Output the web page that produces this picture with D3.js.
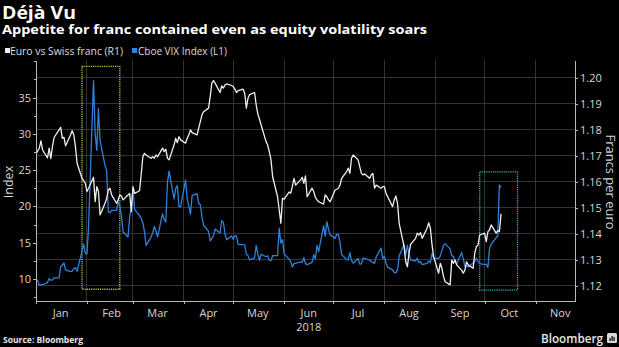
<!DOCTYPE html>
<html lang="en">
<head>
<meta charset="UTF-8">
<title>Déjà Vu</title>
<script src="https://cdn.jsdelivr.net/npm/d3@7"></script>
<style>
    body { margin: 0; background: #000; }
    svg { display: block; background: #000; font-family: "Open Sans", "DejaVu Sans", sans-serif; }
    .axis path, .axis line { stroke: #b8b8b8; shape-rendering: crispEdges; }
    .axis text { fill: #d6d6d6; font-size: 11px; font-family: "Open Sans", sans-serif; }
    .grid line { stroke: #333; stroke-width: 1; shape-rendering: crispEdges; }
</style>
</head>
<body>
<svg width="619" height="347"></svg>
<script>
    // ---- data (one value per weekday, 1 Jan - 11 Oct 2018) ----
    var monthLabels = ["Jan", "Feb", "Mar", "Apr", "May", "Jun", "Jul", "Aug", "Sep", "Oct", "Nov"];
    var leftTicks = [10, 15, 20, 25, 30, 35];
    var leftMinorTicks = [7.5, 12.5, 17.5, 22.5, 27.5, 32.5, 37.5, 40];
    var rightTicks = [1.12, 1.13, 1.14, 1.15, 1.16, 1.17, 1.18, 1.19, 1.20];

    // Cboe VIX Index (left axis)
    var vixValues = [
        10.0, 9.77, 9.15, 9.22, 9.22, 9.52, 10.08, 9.82, 9.88, 10.16, 10.16, 11.66, 11.91, 12.22, 11.27, 11.03, 11.10, 11.47, 11.58, 11.08, 13.84, 14.79, 13.54,
        13.47, 17.31, 37.32, 29.98, 27.73, 33.46, 29.06, 25.61, 24.97, 19.26, 19.13, 19.46, 19.46, 20.60, 20.02, 18.72, 16.49, 15.80, 18.59, 19.85,
        22.47, 19.59, 18.73, 18.36, 17.76, 16.54, 14.64, 15.78, 16.35, 17.23, 16.59, 15.80, 19.02, 18.20, 17.86, 23.34, 24.87, 21.03, 22.50, 22.87, 19.97, 19.97,
        23.62, 21.10, 20.06, 18.94, 21.49, 21.77, 20.47, 20.24, 18.49, 17.41, 16.56, 15.25, 15.60, 15.96, 16.88, 16.34, 18.02, 17.84, 16.24, 15.41, 15.93,
        15.49, 15.97, 15.90, 14.77, 14.75, 14.71, 13.42, 13.23, 12.65, 12.93, 14.63, 13.42, 12.59, 13.42, 13.08, 13.22, 12.58, 12.53, 13.22, 13.22, 17.02, 14.94, 15.43,
        13.46, 12.74, 12.40, 11.64, 12.13, 12.18, 12.35, 12.34, 12.94, 12.12, 11.98, 12.31, 13.35, 12.79, 14.64, 13.77, 17.33, 15.92, 17.91, 16.85, 16.09,
        15.60, 16.14, 16.14, 14.97, 13.37, 12.69, 12.64, 13.63, 12.58, 12.18, 12.83, 12.06, 12.10, 12.87, 12.86, 12.62, 12.41, 12.29, 12.14, 13.03, 14.26, 12.83,
        13.15, 12.19, 11.64, 11.27, 10.93, 10.85, 11.27, 13.16, 14.78, 13.31, 14.64, 13.45, 12.64, 12.49, 12.86, 12.25, 12.41, 11.99, 12.16, 12.50, 12.25, 13.53, 12.86,
        12.86, 13.16, 13.91, 14.65, 14.88, 14.16, 13.22, 13.14, 12.37, 12.07, 13.68, 12.79, 11.75, 11.80, 11.68, 12.20, 12.42, 12.89, 12.41, 12.12,
        12.00, 12.05, 11.61, 14.22, 14.82, 15.69, 15.95, 22.96, 22.6
    ];

    // Euro vs Swiss franc (right axis)
    var eurchfValues = [
        1.1706, 1.1718, 1.1729, 1.1757, 1.1722, 1.1692, 1.1729, 1.1689, 1.1735, 1.1770, 1.1799, 1.1809, 1.1767, 1.1771, 1.1738, 1.1780, 1.1796, 1.1780, 1.1735, 1.1671, 1.1613, 1.1604, 1.1594,
        1.1562, 1.1575, 1.1617, 1.1523, 1.1581, 1.1562, 1.1472, 1.1517, 1.1536, 1.1568, 1.1575, 1.1549, 1.1517, 1.1530, 1.1549, 1.1545, 1.1530, 1.1549, 1.1555, 1.1485,
        1.1581, 1.1555, 1.1565, 1.1626, 1.1696, 1.1709, 1.1703, 1.1690, 1.1696, 1.1690, 1.1703, 1.1696, 1.1729, 1.1716, 1.1725, 1.1690, 1.1684, 1.1741, 1.1767, 1.1750, 1.1773, 1.1761,
        1.1748, 1.1767, 1.1780, 1.1799, 1.1789, 1.1780, 1.1806, 1.1831, 1.1857, 1.1869, 1.1883, 1.1927, 1.1979, 1.1989, 1.1979, 1.1943, 1.1968, 1.1960, 1.1972, 1.1976, 1.1970,
        1.1966, 1.1956, 1.1943, 1.1950, 1.1956, 1.1940, 1.1883, 1.1921, 1.1935, 1.1943, 1.1895, 1.1860, 1.1840, 1.1818, 1.1754, 1.1741, 1.1715, 1.1684, 1.1619, 1.1542, 1.1491, 1.1440, 1.1536,
        1.1533, 1.1560, 1.1556, 1.1581, 1.1613, 1.1587, 1.1607, 1.1617, 1.1594, 1.1622, 1.1542, 1.1575, 1.1562, 1.1540, 1.1530, 1.1523, 1.1514, 1.1549, 1.1542, 1.1530, 1.1523,
        1.1568, 1.1571, 1.1575, 1.1587, 1.1613, 1.1639, 1.1652, 1.1632, 1.1690, 1.1703, 1.1684, 1.1658, 1.1632, 1.1626, 1.1630, 1.1613, 1.1626, 1.1632, 1.1575, 1.1587, 1.1575, 1.1581,
        1.1581, 1.1555, 1.1542, 1.1504, 1.1530, 1.1545, 1.1517, 1.1440, 1.1350, 1.1292, 1.1273, 1.1325, 1.1360, 1.1382, 1.1402, 1.1395, 1.1404, 1.1382, 1.1421, 1.1442, 1.1421, 1.1357, 1.1312,
        1.1248, 1.1286, 1.1267, 1.1235, 1.1215, 1.1203, 1.1299, 1.1286, 1.1299, 1.1280, 1.1260, 1.1248, 1.1260, 1.1292, 1.1280, 1.1267, 1.1325, 1.1350, 1.1357, 1.1395,
        1.1402, 1.1369, 1.1408, 1.1414, 1.1434, 1.1402, 1.1412, 1.1408, 1.1476
    ];

    // highlighted periods (dates + axis values)
    var boxStarts = ["2018-01-29", "2018-09-28"];
    var boxEnds = ["2018-02-21", "2018-10-21"];
    var boxLow = [8.6, 1.1183];
    var boxHigh = [39.3, 1.1638];

    // weekdays the values belong to
    var tradingDays = d3.timeDay.range(new Date(2018, 0, 1), new Date(2018, 9, 12)).filter(function (d) {
        return d.getDay() !== 0 && d.getDay() !== 6;
    });

    // ---- layout ----
    var svg = d3.select("svg");
    var plotL = 36, plotR = 575, plotT = 60, plotB = 301;
    var parse = d3.timeParse("%Y-%m-%d");

    var x = d3.scaleTime().domain([new Date(2018, 0, 1), new Date(2018, 10, 25)]).range([plotL, plotR]);
    var yL = d3.scaleLinear().domain([6.98, 40.17]).range([plotB, plotT]);
    var yR = d3.scaleLinear().domain([1.11411, 1.20681]).range([plotB, plotT]);

    var monthStarts = d3.timeMonth.range(new Date(2018, 0, 1), new Date(2018, 11, 1));

    // grid
    var grid = svg.append("g").attr("class", "grid");
    grid.selectAll(".h").data(rightTicks).enter().append("line")
        .attr("x1", plotL).attr("x2", plotR)
        .attr("y1", function (d) { return yR(d); })
        .attr("y2", function (d) { return yR(d); });
    grid.selectAll(".v").data(monthStarts.slice(1)).enter().append("line")
        .attr("x1", function (d) { return x(d); })
        .attr("x2", function (d) { return x(d); })
        .attr("y1", plotT).attr("y2", plotB);

    // highlight boxes
    svg.selectAll(".box").data(boxStarts).enter().append("rect")
        .attr("x", function (d) { return x(parse(d)); })
        .attr("width", function (d, i) { return x(parse(boxEnds[i])) - x(parse(d)); })
        .attr("y", function (d, i) { var s = i === 0 ? yL : yR; return s(boxHigh[i]); })
        .attr("height", function (d, i) { var s = i === 0 ? yL : yR; return s(boxLow[i]) - s(boxHigh[i]); })
        .attr("fill", "none")
        .attr("stroke", function (d, i) { return i === 0 ? "#a6cf3c" : "#2ab4b8"; })
        .attr("stroke-width", 1.3)
        .attr("stroke-dasharray", "1.2,1");

    // lines
    svg.append("defs").append("clipPath").attr("id", "plot")
        .append("rect").attr("x", plotL).attr("y", plotT).attr("width", plotR - plotL).attr("height", plotB - plotT);

    var eurLine = d3.line()
        .x(function (d, i) { return x(tradingDays[i]); })
        .y(function (d) { return yR(d); });
    var vixLine = d3.line()
        .x(function (d, i) { return x(tradingDays[i]); })
        .y(function (d) { return yL(d); });

    svg.append("path").datum(vixValues)
        .attr("clip-path", "url(#plot)")
        .attr("d", vixLine)
        .attr("fill", "none").attr("stroke", "#2f80d9").attr("stroke-width", 1.3)
        .attr("stroke-linejoin", "round");
    svg.append("path").datum(eurchfValues)
        .attr("clip-path", "url(#plot)")
        .attr("d", eurLine)
        .attr("fill", "none").attr("stroke", "#f0f0f0").attr("stroke-width", 1.3)
        .attr("stroke-linejoin", "round");

    // axes
    svg.append("g").attr("class", "axis").attr("transform", "translate(" + plotL + ",0)")
        .call(d3.axisLeft(yL).tickValues(leftTicks).tickSize(3).tickSizeOuter(0).tickPadding(2));
    svg.append("g").attr("class", "axis").attr("transform", "translate(" + plotL + ",0)")
        .call(d3.axisLeft(yL).tickValues(leftMinorTicks).tickSize(2).tickSizeOuter(0).tickFormat(""));
    svg.append("g").attr("class", "axis").attr("transform", "translate(" + plotR + ",0)")
        .call(d3.axisRight(yR).tickValues(rightTicks).tickSize(3).tickSizeOuter(0).tickPadding(2).tickFormat(d3.format(".2f")));
    svg.append("g").attr("class", "axis").attr("transform", "translate(0," + plotB + ")")
        .call(d3.axisBottom(x).tickValues(monthStarts).tickSize(3).tickSizeOuter(0).tickFormat(""));

    // month labels centred in each month
    svg.selectAll(".month").data(monthLabels).enter().append("text")
        .attr("x", function (d, i) { return x(new Date(2018, i, 16)); })
        .attr("y", 317)
        .attr("text-anchor", "middle")
        .attr("fill", "#d6d6d6").attr("font-size", 11)
        .text(function (d) { return d; });
    svg.append("text").attr("x", x(new Date(2018, 5, 16))).attr("y", 331)
        .attr("text-anchor", "middle").attr("fill", "#d6d6d6").attr("font-size", 11)
        .text("2018");

    // axis titles
    svg.append("text").attr("transform", "translate(13,182) rotate(-90)")
        .attr("text-anchor", "middle").attr("fill", "#d6d6d6").attr("font-size", 12.5)
        .text("Index");
    svg.append("text").attr("transform", "translate(606,182) rotate(90)")
        .attr("text-anchor", "middle").attr("fill", "#d6d6d6").attr("font-size", 12.5)
        .attr("textLength", 95).attr("lengthAdjust", "spacingAndGlyphs")
        .text("Francs per euro");

    // titles
    svg.append("text").attr("x", 2).attr("y", 18.5)
        .attr("fill", "#fff").attr("font-size", 17).attr("font-weight", "bold")
        .attr("textLength", 74).attr("lengthAdjust", "spacingAndGlyphs")
        .text("Déjà Vu");
    svg.append("text").attr("x", 2).attr("y", 33.5)
        .attr("fill", "#fff").attr("font-size", 13).attr("font-weight", "bold")
        .attr("textLength", 425).attr("lengthAdjust", "spacingAndGlyphs")
        .text("Appetite for franc contained even as equity volatility soars");

    // legend
    svg.append("rect").attr("x", 5).attr("y", 48).attr("width", 5).attr("height", 5).attr("fill", "#f0f0f0");
    svg.append("text").attr("x", 10).attr("y", 54.5)
        .attr("fill", "#dcdcdc").attr("font-size", 10)
        .attr("textLength", 113).attr("lengthAdjust", "spacingAndGlyphs")
        .text("Euro vs Swiss franc  (R1)");
    svg.append("rect").attr("x", 132).attr("y", 48).attr("width", 5).attr("height", 5).attr("fill", "#2f86e0");
    svg.append("text").attr("x", 138).attr("y", 54.5)
        .attr("fill", "#dcdcdc").attr("font-size", 10)
        .attr("textLength", 89).attr("lengthAdjust", "spacingAndGlyphs")
        .text("Cboe VIX Index (L1)");

    // footer
    svg.append("text").attr("x", 3).attr("y", 343)
        .attr("fill", "#e6e6e6").attr("font-size", 9.5).attr("font-weight", "bold")
        .attr("textLength", 80).attr("lengthAdjust", "spacingAndGlyphs")
        .text("Source: Bloomberg");
    svg.append("text").attr("x", 541).attr("y", 343)
        .attr("fill", "#e6e6e6").attr("font-size", 13).attr("font-weight", 600)
        .attr("textLength", 62).attr("lengthAdjust", "spacingAndGlyphs")
        .text("Bloomberg");
    var logo = svg.append("g").attr("transform", "translate(607,333)");
    logo.append("rect").attr("width", 10).attr("height", 10).attr("rx", 1.5).attr("fill", "#d8d8d8");
    logo.append("rect").attr("x", 2.5).attr("y", 5).attr("width", 1.2).attr("height", 3).attr("fill", "#000");
    logo.append("rect").attr("x", 4.5).attr("y", 3).attr("width", 1.2).attr("height", 5).attr("fill", "#000");
    logo.append("rect").attr("x", 6.5).attr("y", 4).attr("width", 1.2).attr("height", 4).attr("fill", "#000");
</script>
</body>
</html>
